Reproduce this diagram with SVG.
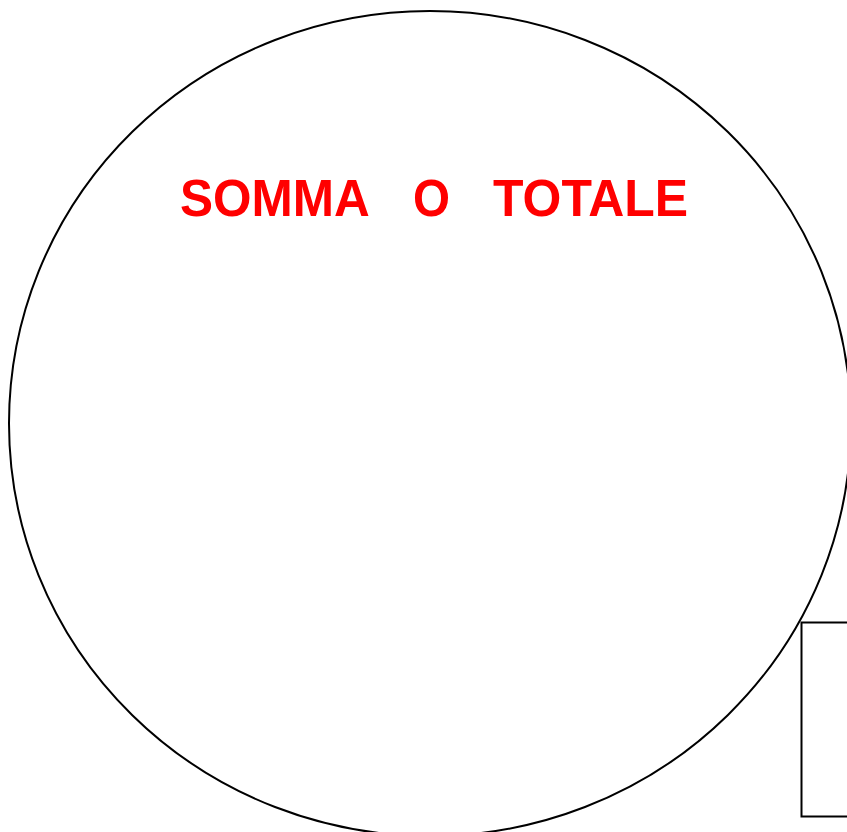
<svg xmlns="http://www.w3.org/2000/svg" width="847" height="832" viewBox="0 0 847 832">
  <style>
    .shape { fill: #ffffff; stroke: #000000; stroke-width: 2; }
    .title { fill: #ff0000; font-family: "Comic Sans MS", "Liberation Sans", "DejaVu Sans", sans-serif; font-weight: bold; font-size: 52px; }
  </style>
  <rect x="0" y="0" width="847" height="832" fill="#ffffff"/>
  <g id="circle">
    <ellipse class="shape" cx="430" cy="423.5" rx="421" ry="412.5"/>
  </g>
  <g id="title">
    <text class="title" y="216">
      <tspan x="180" textLength="188" lengthAdjust="spacingAndGlyphs">SOMMA</tspan>
      <tspan x="413" textLength="37" lengthAdjust="spacingAndGlyphs">O</tspan>
      <tspan x="493" textLength="195" lengthAdjust="spacingAndGlyphs">TOTALE</tspan>
    </text>
  </g>
  <g id="box">
    <rect class="shape" x="801.5" y="622.5" width="60" height="194"/>
  </g>
</svg>
